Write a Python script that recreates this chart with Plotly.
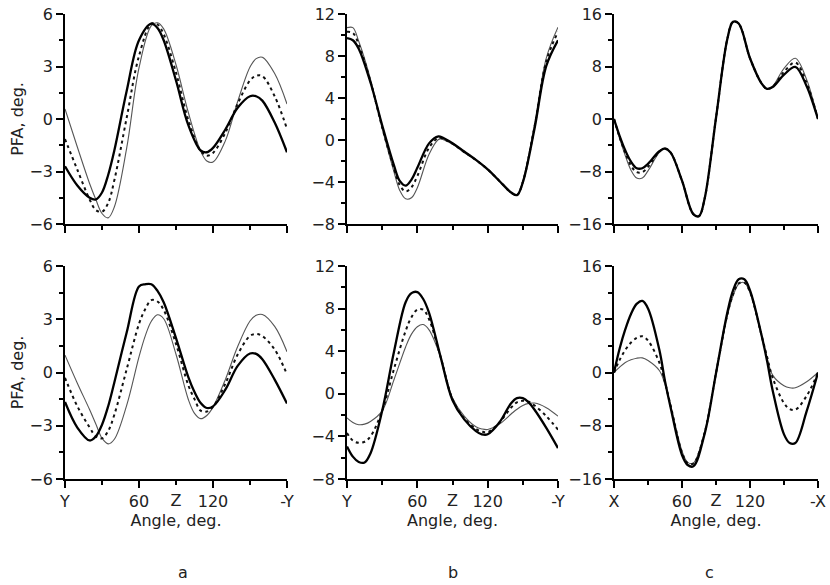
import plotly.graph_objects as go

# ---------------- data (angle in degrees, PFA in degrees) ----------------
A_TOP_ANG = [0, 10, 20, 25, 30, 35, 40, 50, 60, 70, 75, 80, 90, 100, 110, 115, 120, 130, 140, 150, 155, 160, 170, 180]
A_TOP_THICK = [-2.7, -3.8, -4.5, -4.6, -4.2, -3.2, -1.8, 1.6, 4.5, 5.45, 5.2, 4.5, 2.2, -0.35, -1.8, -1.9, -1.65, -0.6, 0.64, 1.3, 1.3, 1.05, -0.2, -1.9]
A_TOP_DASH = [-1.15, -2.9, -4.6, -5.2, -5.3, -4.8, -3.5, 0.07, 3.6, 5.45, 5.4, 4.85, 2.65, -0.05, -1.83, -2.1, -1.94, -0.79, 0.87, 2.2, 2.47, 2.45, 1.3, -0.57]
A_TOP_THIN = [0.57, -1.6, -3.7, -4.6, -5.4, -5.65, -5.03, -1.67, 2.92, 5.33, 5.5, 5.15, 3.1, 0.37, -1.84, -2.4, -2.46, -1.25, 1.0, 2.97, 3.45, 3.53, 2.6, 0.86]

A_BOT_ANG = [0, 10, 20, 25, 30, 35, 40, 50, 60, 65, 70, 75, 80, 90, 100, 105, 110, 115, 120, 130, 140, 150, 155, 160, 170, 180]
A_BOT_THICK = [-1.66, -3.1, -3.83, -3.6, -2.94, -1.9, -0.56, 2.25, 4.85, 4.97, 4.97, 4.6, 3.96, 1.94, -0.26, -1.1, -1.72, -2.0, -1.91, -0.97, 0.37, 1.07, 1.05, 0.75, -0.4, -1.75]
A_BOT_DASH = [-0.3, -1.9, -3.1, -3.6, -3.71, -3.3, -2.38, 0.18, 2.74, 3.56, 4.08, 4.0, 3.53, 1.61, -0.72, -1.5, -2.15, -2.2, -1.94, -0.63, 1.01, 2.06, 2.17, 2.05, 1.3, -0.11]
A_BOT_THIN = [0.98, -0.6, -2.1, -2.9, -3.7, -4.02, -3.76, -1.85, 0.88, 2.05, 2.89, 3.25, 3.03, 1.03, -1.52, -2.3, -2.6, -2.42, -1.95, -0.4, 1.46, 2.9, 3.22, 3.27, 2.6, 1.17]

B_TOP_ANG = [0, 5, 10, 20, 30, 40, 45, 50, 55, 60, 70, 78, 80, 90, 100, 110, 120, 130, 140, 145, 150, 160, 170, 180]
B_TOP_THICK = [9.7, 9.5, 8.7, 5.5, 1.4, -2.4, -3.9, -4.35, -3.77, -2.65, -0.32, 0.35, 0.3, -0.3, -1.1, -1.9, -2.8, -3.9, -5.0, -5.25, -4.04, 1.1, 7.06, 9.5]
B_TOP_DASH = [10.3, 10.2, 9.1, 5.6, 1.2, -2.7, -4.3, -4.9, -4.5, -3.44, -0.73, 0.22, 0.2, -0.35, -1.15, -1.9, -2.8, -3.9, -5.0, -5.25, -4.0, 1.3, 7.5, 10.3]
B_TOP_THIN = [10.7, 10.7, 9.4, 5.8, 1.1, -3.0, -4.8, -5.6, -5.5, -4.54, -1.35, 0.05, 0.1, -0.4, -1.2, -1.9, -2.8, -3.9, -5.0, -5.25, -3.9, 1.5, 7.8, 10.74]

B_BOT_ANG = [0, 5, 10, 15, 20, 30, 40, 50, 55, 60, 65, 70, 80, 90, 100, 110, 115, 120, 130, 140, 145, 150, 155, 160, 170, 180]
B_BOT_THICK = [-4.94, -5.9, -6.4, -6.45, -5.6, -1.6, 3.9, 8.6, 9.45, 9.55, 8.9, 7.6, 3.4, -0.6, -2.4, -3.5, -3.8, -3.8, -2.7, -0.88, -0.4, -0.4, -0.8, -1.5, -3.2, -5.1]
B_BOT_DASH = [-3.68, -4.4, -4.6, -4.5, -4.0, -1.6, 2.3, 5.9, 7.2, 7.9, 7.9, 7.0, 3.4, -0.5, -2.3, -3.3, -3.55, -3.6, -2.7, -1.3, -0.8, -0.65, -0.75, -1.1, -2.1, -3.37]
B_BOT_THIN = [-2.26, -2.7, -2.9, -2.85, -2.6, -1.6, 1.3, 4.4, 5.6, 6.3, 6.5, 6.0, 3.4, -0.4, -2.1, -3.1, -3.3, -3.35, -2.84, -1.9, -1.45, -1.09, -0.9, -0.87, -1.3, -2.1]

C_TOP_ANG = [0, 5, 10, 15, 20, 25, 30, 40, 45, 50, 60, 70, 75, 80, 90, 100, 105, 110, 120, 130, 135, 140, 150, 160, 170, 175, 180]
C_TOP_THICK = [0, -2.6, -4.8, -6.5, -7.5, -7.5, -6.83, -4.92, -4.5, -5.12, -9.4, -14.5, -14.8, -12.1, 0.15, 12.2, 14.8, 14.55, 9.26, 5.48, 4.6, 4.87, 6.75, 7.95, 5.0, 2.7, 0]
C_TOP_DASH = [0, -2.8, -5.2, -7.1, -8.1, -8.1, -7.3, -5.0, -4.5, -5.12, -9.4, -14.5, -14.8, -12.1, 0.15, 12.2, 14.8, 14.55, 9.26, 5.48, 4.6, 4.9, 7.2, 8.6, 5.5, 3.0, 0]
C_TOP_THIN = [0, -3.0, -5.6, -7.8, -9.0, -9.0, -7.9, -5.1, -4.5, -5.12, -9.4, -14.5, -14.8, -12.1, 0.15, 12.2, 14.8, 14.55, 9.26, 5.48, 4.6, 5.0, 7.7, 9.25, 6.0, 3.3, 0]

C_BOT_ANG = [0, 5, 10, 15, 20, 25, 30, 40, 45, 50, 60, 65, 70, 80, 90, 100, 105, 110, 115, 120, 130, 135, 140, 150, 155, 160, 170, 180]
C_BOT_THICK = [0, 3.6, 6.5, 8.8, 10.3, 10.75, 9.63, 3.4, -1.3, -5.3, -12.4, -13.9, -14.1, -9.2, -0.1, 9.0, 12.3, 14.0, 14.0, 12.35, 5.76, 1.8, -2.7, -9.3, -10.6, -10.6, -5.8, 0]
C_BOT_DASH = [0, 1.9, 3.4, 4.5, 5.2, 5.45, 4.8, 1.5, -1.5, -5.0, -12.0, -13.6, -13.7, -9.0, -0.1, 8.7, 11.7, 13.4, 13.5, 12.1, 5.7, 2.4, -0.8, -4.6, -5.5, -5.6, -3.5, 0]
C_BOT_THIN = [0, 0.8, 1.5, 1.9, 2.15, 2.2, 1.8, 0.3, -1.8, -5.0, -11.8, -13.5, -13.6, -8.9, -0.1, 8.5, 11.5, 13.3, 13.5, 12.0, 5.6, 2.2, -0.4, -2.0, -2.3, -2.3, -1.4, 0]

X_TICKS = [0, 60, 120, 180]
X_MINOR = [30, 90, 150]
XY_TEXT = ["Y", "60", "120", "-Y"]
XX_TEXT = ["X", "60", "120", "-X"]
Z_LABEL = "Z"
Y_RANGES = {"a": [-6, 6], "b": [-8, 12], "c": [-16, 16]}
Y_DTICK = {"a": 3, "b": 4, "c": 8}
PANEL_LETTERS = ["a", "b", "c"]

# ---------------- layout geometry (page pixels) ----------------
W, H = 830, 585
COL_PX = [(65, 287), (347, 558), (614, 818)]
ROW_PX = [(14, 224), (266, 479)]
LETTER_Y = 572
FONT = "DejaVu Sans, Arial, sans-serif"
TXT = "#222"
FS = 16


def px_x(p):
    return p / W


def px_y(p):
    return 1 - p / H


panels = [
    (0, 0, A_TOP_ANG, A_TOP_THICK, A_TOP_DASH, A_TOP_THIN),
    (0, 1, B_TOP_ANG, B_TOP_THICK, B_TOP_DASH, B_TOP_THIN),
    (0, 2, C_TOP_ANG, C_TOP_THICK, C_TOP_DASH, C_TOP_THIN),
    (1, 0, A_BOT_ANG, A_BOT_THICK, A_BOT_DASH, A_BOT_THIN),
    (1, 1, B_BOT_ANG, B_BOT_THICK, B_BOT_DASH, B_BOT_THIN),
    (1, 2, C_BOT_ANG, C_BOT_THICK, C_BOT_DASH, C_BOT_THIN),
]

fig = go.Figure()
layout = {}
annotations = []

for r, c, ang, thick, dash, thin in panels:
    k = r * 3 + c + 1
    xs = "" if k == 1 else str(k)
    letter = PANEL_LETTERS[c]
    xname, yname = "x" + xs, "y" + xs
    for vals, width, color, dashstyle in [
        (thin, 1.1, "#555555", "solid"),
        (dash, 2.0, "#111111", "3px,3.5px"),
        (thick, 2.3, "#000000", "solid"),
    ]:
        fig.add_trace(go.Scatter(x=ang, y=vals, mode="lines", xaxis=xname, yaxis=yname,
                                 line=dict(color=color, width=width, dash=dashstyle,
                                           shape="spline", smoothing=1.0),
                                 hoverinfo="skip", showlegend=False))
    x0, x1 = COL_PX[c]
    y0, y1 = ROW_PX[r]
    xdom = [px_x(x0), px_x(x1)]
    ydom = [px_y(y1), px_y(y0)]
    bottom = r == 1
    layout["xaxis" + xs] = dict(
        domain=xdom, anchor=yname, range=[0, 180], showgrid=False, zeroline=False,
        automargin=False, ticklabeloverflow="allow",
        showline=True, linecolor="black", linewidth=1.5,
        tickmode="array", tickvals=X_TICKS,
        ticktext=(XX_TEXT if c == 2 else XY_TEXT),
        showticklabels=bottom, ticks="outside", ticklen=7, tickwidth=1.5, tickcolor="black",
        minor=dict(tickmode="array", tickvals=X_MINOR, ticks="outside", ticklen=4,
                   tickwidth=1.5, tickcolor="black", showgrid=False),
        tickfont=dict(family=FONT, size=FS, color=TXT),
        title=dict(text="Angle, deg." if bottom else "", font=dict(family=FONT, size=FS, color=TXT),
                   standoff=0),
    )
    yr = Y_RANGES[letter]
    dt = Y_DTICK[letter]
    layout["yaxis" + xs] = dict(
        domain=ydom, anchor=xname, range=yr, showgrid=False, zeroline=False,
        automargin=False, ticklabeloverflow="allow",
        showline=True, linecolor="black", linewidth=1.5,
        tickmode="linear", tick0=yr[0], dtick=dt,
        ticks="outside", ticklen=7, tickwidth=1.5, tickcolor="black",
        minor=dict(dtick=dt / 2, tick0=yr[0], ticks="outside", ticklen=4, tickwidth=1.5,
                   tickcolor="black", showgrid=False),
        tickfont=dict(family=FONT, size=FS, color=TXT),
        title=dict(text="PFA, deg." if c == 0 else "", font=dict(family=FONT, size=FS, color=TXT),
                   standoff=2),
    )
    if bottom:
        # "Z" label at 90 degrees (the tick there is a short minor tick)
        ox = str(k + 3)
        fig.add_trace(go.Scatter(x=[None], y=[None], xaxis="x" + ox, yaxis=yname,
                                 showlegend=False, hoverinfo="skip"))
        layout["xaxis" + ox] = dict(
            domain=xdom, anchor=yname, overlaying=xname, range=[0, 180], side="bottom",
            showgrid=False, zeroline=False, showline=False, automargin=False,
            tickmode="array", tickvals=[90], ticktext=[Z_LABEL],
            ticks="outside", ticklen=7, tickwidth=1.5, tickcolor="rgba(0,0,0,0)",
            tickfont=dict(family=FONT, size=FS, color=TXT),
        )
        annotations.append(dict(text=letter, x=px_x((x0 + x1) / 2), y=px_y(LETTER_Y),
                                xref="paper", yref="paper", showarrow=False,
                                yanchor="middle",
                                font=dict(family=FONT, size=FS, color=TXT)))

fig.update_layout(
    width=W, height=H, margin=dict(l=0, r=0, t=0, b=0, autoexpand=False),
    paper_bgcolor="white", plot_bgcolor="white", showlegend=False,
    annotations=annotations, **layout,
)
fig.write_html("out.html", config={"displayModeBar": False},
               post_script="document.body.style.margin='0';document.body.style.overflow='hidden';")
